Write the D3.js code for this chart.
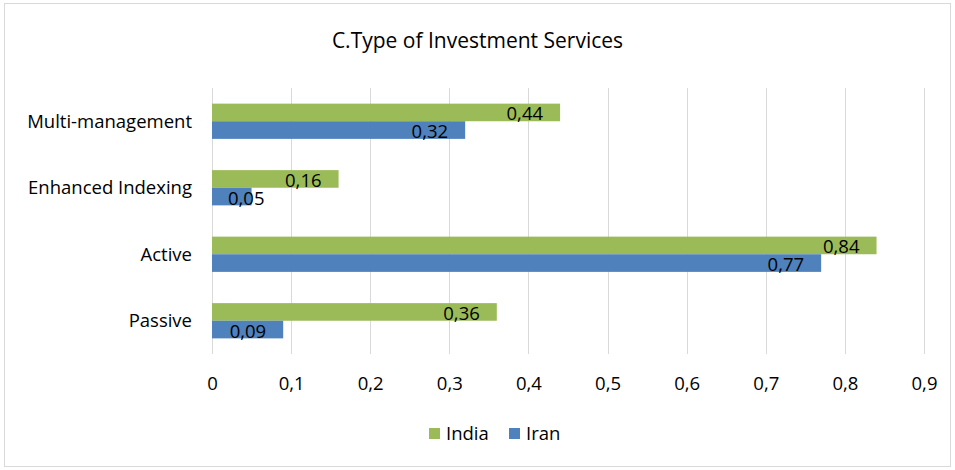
<!DOCTYPE html>
<html>
<head>
<meta charset="utf-8">
<script src="https://cdn.jsdelivr.net/npm/d3@7/dist/d3.min.js"></script>
<style>
  body { margin: 0; background: #fff; }
  text { font-family: "Open Sans", Lato, sans-serif; fill: #000; }
</style>
</head>
<body>
<div id="chart-area"></div>
<script>
// data
const categories = ['Multi-management', 'Enhanced Indexing', 'Active', 'Passive'];
const seriesNames = ['India', 'Iran'];
const india = [0.44, 0.16, 0.84, 0.36];
const iran = [0.32, 0.05, 0.77, 0.09];
const xTicks = [0, 0.1, 0.2, 0.3, 0.4, 0.5, 0.6, 0.7, 0.8, 0.9];
const colors = ['#9bbb59', '#4f81bd'];

const width = 955;
const height = 470;
const fontSize = '18.5px';

// plot area
const plot = { left: 212, right: 924, top: 88, bottom: 354 };

const fmt = d => String(d).replace('.', ',');

const svg = d3.select('#chart-area').append('svg')
    .attr('width', width)
    .attr('height', height);

// outer frame
svg.append('rect')
    .attr('x', 4.5).attr('y', 3.5)
    .attr('width', 946).attr('height', 463)
    .attr('fill', '#fff')
    .attr('stroke', '#d9d9d9');

// title
svg.append('text')
    .attr('x', 477.5).attr('y', 48)
    .attr('text-anchor', 'middle')
    .attr('font-size', '21px')
    .text('C.Type of Investment Services');

const x = d3.scaleLinear()
    .domain([0, 0.9])
    .range([plot.left, plot.right]);

const y = d3.scaleBand()
    .domain(categories)
    .range([plot.top, plot.bottom])
    .paddingInner(0.47)
    .paddingOuter(0.235);

const ySub = d3.scaleBand()
    .domain(seriesNames)
    .range([0, y.bandwidth()]);

// vertical grid lines
svg.append('g')
    .selectAll('line')
    .data(xTicks)
    .join('line')
    .attr('x1', d => Math.round(x(d)) + 0.5)
    .attr('x2', d => Math.round(x(d)) + 0.5)
    .attr('y1', plot.top)
    .attr('y2', plot.bottom)
    .attr('stroke', '#d9d9d9')
    .attr('stroke-width', 1);

// x axis labels
const xAxis = d3.axisBottom(x)
    .tickValues(xTicks)
    .tickSize(0)
    .tickPadding(0)
    .tickFormat(fmt);

svg.append('g')
    .attr('transform', `translate(0, ${plot.bottom + 36})`)
    .call(xAxis)
    .call(g => g.select('.domain').remove())
    .selectAll('text')
    .attr('font-size', fontSize)
    .attr('font-family', '"Open Sans", sans-serif')
    .attr('fill', '#000')
    .attr('dy', 0);

// y axis labels
const yAxis = d3.axisLeft(y).tickSize(0).tickPadding(20);
svg.append('g')
    .attr('transform', `translate(${plot.left}, 0)`)
    .call(yAxis)
    .call(g => g.select('.domain').remove())
    .selectAll('text')
    .attr('font-size', fontSize)
    .attr('font-family', '"Open Sans", sans-serif')
    .attr('fill', '#000')
    .attr('dy', '0.35em');

// table for bars
const rows = categories.map((c, i) => ({
    category: c,
    values: [{ key: 'India', value: india[i] }, { key: 'Iran', value: iran[i] }]
}));

const groups = svg.append('g')
    .selectAll('g')
    .data(rows)
    .join('g')
    .attr('transform', d => `translate(0, ${y(d.category)})`);

groups.selectAll('rect')
    .data(d => d.values)
    .join('rect')
    .attr('x', x(0))
    .attr('y', d => ySub(d.key))
    .attr('width', d => x(d.value) - x(0))
    .attr('height', ySub.bandwidth())
    .attr('fill', (d, i) => colors[i]);

// data labels, inside end, clamped to the bar start
groups.selectAll('text.lbl')
    .data(d => d.values)
    .join('text')
    .attr('class', 'lbl')
    .attr('font-size', fontSize)
    .attr('y', d => ySub(d.key) + ySub.bandwidth() / 2 + 1.5)
    .attr('dy', '0.35em')
    .text(d => fmt(d.value))
    .each(function (d) {
        const w = this.getComputedTextLength();
        const xr = Math.max(x(d.value) - 17, x(0) + 16 + w);
        d3.select(this).attr('x', xr).attr('text-anchor', 'end');
    });

// legend
const legend = svg.append('g').attr('transform', 'translate(429, 428)');
const legendPos = [0, 80];
seriesNames.forEach((s, i) => {
    legend.append('rect')
        .attr('x', legendPos[i]).attr('y', 0)
        .attr('width', 11).attr('height', 11)
        .attr('fill', colors[i]);
    legend.append('text')
        .attr('x', legendPos[i] + 17).attr('y', 6)
        .attr('dy', '0.35em')
        .attr('font-size', fontSize)
        .text(s);
});
</script>
</body>
</html>
